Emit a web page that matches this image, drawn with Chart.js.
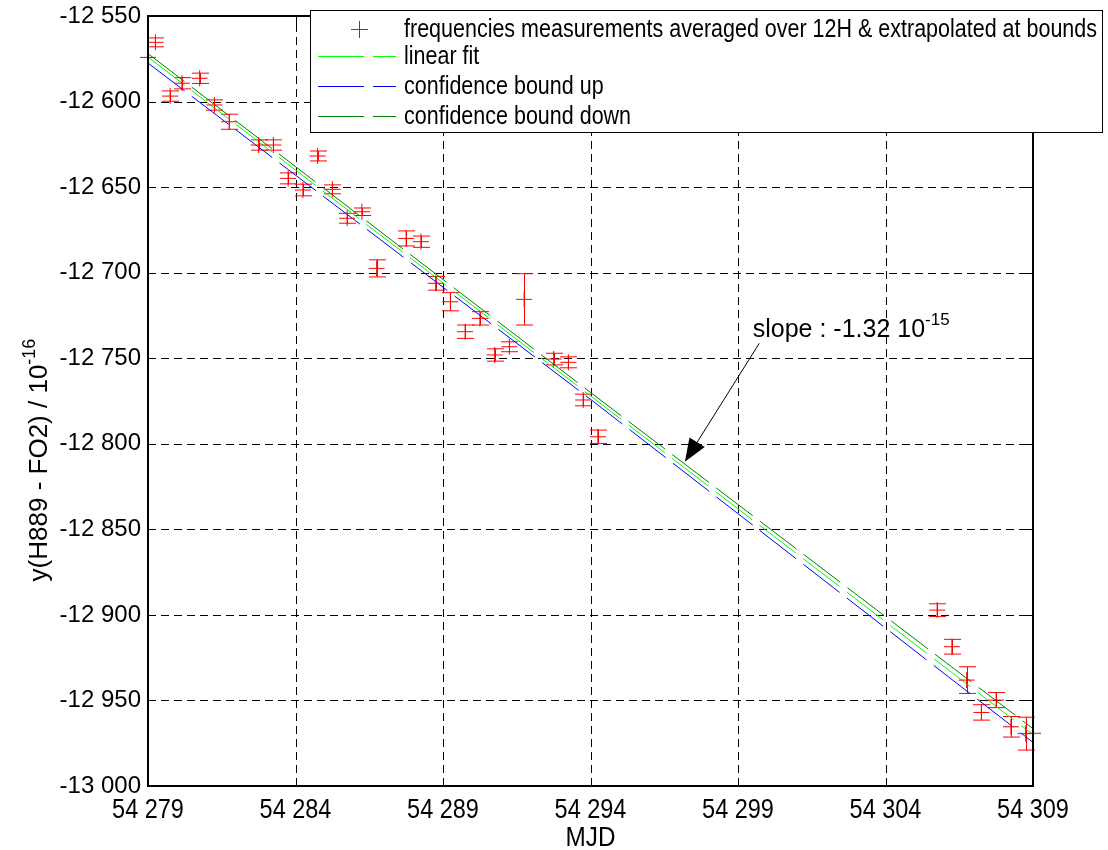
<!DOCTYPE html>
<html><head><meta charset="utf-8">
<script src="https://cdn.jsdelivr.net/npm/chart.js@4"></script>
<style>html,body{margin:0;padding:0;background:#fff;}canvas{display:block;}</style>
</head><body>
<canvas id="c" width="1108" height="850"></canvas>
<script>
// ---- data ----
const mjd = [54279, 54279.25, 54279.75, 54280.15, 54280.75, 54281.25, 54281.75, 54282.75, 54283.25, 54283.75,
  54284.25, 54284.75, 54285.25, 54285.75, 54286.25, 54286.75, 54287.75, 54288.25, 54288.75, 54289.25,
  54289.75, 54290.25, 54290.75, 54291.25, 54291.75, 54292.75, 54293.25, 54293.75, 54294.25,
  54305.75, 54306.25, 54306.75, 54307.25, 54307.75, 54308.25, 54308.75, 54309];
const yMeas = [-12574.2, -12565.4, -12596.8, -12589.3, -12586.4, -12602, -12611.8, -12625.4, -12625.4, -12644.9,
  -12651.7, -12631.8, -12651.3, -12668.2, -12664.4, -12697.5, -12680, -12681.9, -12706.2, -12717,
  -12734.5, -12726.7, -12748.1, -12743.3, -12715.6, -12750.5, -12752.4, -12774.4, -12795.9,
  -12897.2, -12918.6, -12938.1, -12957, -12949.8, -12965.4, -12969.4, -12969.2];
const yErr = [0, 2.6, 3, 3.3, 3, 3, 4.4, 3, 3, 3.2,
  3.4, 2.9, 2.6, 2.9, 2.2, 5, 4.4, 3.3, 4, 5.3,
  3.9, 3.9, 3.6, 2.9, 15, 3.4, 3.2, 3.4, 3.9,
  3.7, 4.3, 7.8, 4.5, 4.4, 6, 9.6, 0];
const fitX = [54279, 54309];
const fitY = [-12574, -12970];
const boundX = [54279, 54294, 54309];
const boundUpY = [-12577.5, -12774, -12974.5];
const boundDownY = [-12572, -12770, -12966.5];
const xTicks = [54279, 54284, 54289, 54294, 54299, 54304, 54309];
const yTicks = [-13000, -12950, -12900, -12850, -12800, -12750, -12700, -12650, -12600, -12550];
const legendLabels = ['frequencies measurements averaged over 12H & extrapolated at bounds', 'linear fit', 'confidence bound up', 'confidence bound down'];
const xTitle = 'MJD';
const yTitle = 'y(H889 - FO2) / 10', yTitleExp = '-16';
const slopeText = 'slope : -1.32 10', slopeExp = '-15';
const slopeAt = [54299.5, -12737.6];
const arrowTail = [54299.72, -12741.3];
const arrowTip = [54297.2, -12810.5];

const REG = '"Liberation Sans", Arial, sans-serif';
const DASH = [46, 9];
const COLORS = ['#ff0000', '#00ff00', '#0000ff', '#007f00'];

function fmt(v) {
  const s = Math.abs(Math.round(v)).toString().replace(/\B(?=(\d{3})+(?!\d))/g, ' ');
  return (v < 0 ? '-' : '') + s;
}
function supText(ctx, base, exp, x, y, font, supFont, rise, align) {
  ctx.font = font;
  const w1 = ctx.measureText(base).width;
  ctx.font = supFont;
  const w2 = ctx.measureText(exp).width;
  let x0 = x;
  if (align === 'center') x0 = x - (w1 + w2) / 2;
  ctx.textAlign = 'left';
  ctx.textBaseline = 'alphabetic';
  ctx.font = font;
  ctx.fillText(base, x0, y);
  ctx.font = supFont;
  ctx.fillText(exp, x0 + w1, y - rise);
}
function narrowText(ctx, text, x, y, font, sx, align, baseline) {
  ctx.save();
  ctx.translate(x, y);
  ctx.scale(sx, 1);
  ctx.font = font;
  ctx.textAlign = align;
  ctx.textBaseline = baseline;
  ctx.fillText(text, 0, 0);
  ctx.restore();
}

const decor = {
  id: 'decor',
  beforeDatasetsDraw(chart) {
    const { ctx, chartArea: a, scales: { x, y } } = chart;
    ctx.save();
    ctx.strokeStyle = '#000';
    ctx.lineWidth = 1;
    ctx.setLineDash([8, 5]);
    xTicks.slice(1, -1).forEach(v => {
      const px = Math.round(x.getPixelForValue(v)) + 0.5;
      ctx.beginPath(); ctx.moveTo(px, a.bottom); ctx.lineTo(px, a.top); ctx.stroke();
    });
    yTicks.slice(1, -1).forEach(v => {
      const py = Math.round(y.getPixelForValue(v)) + 0.5;
      ctx.beginPath(); ctx.moveTo(a.left, py); ctx.lineTo(a.right, py); ctx.stroke();
    });
    ctx.setLineDash([]);
    // error bars
    ctx.strokeStyle = COLORS[0];
    ctx.lineWidth = 1;
    mjd.forEach((m, i) => {
      if (!yErr[i]) return;
      const px = Math.round(x.getPixelForValue(m)) + 0.5;
      const p1 = y.getPixelForValue(yMeas[i] + yErr[i]);
      const p2 = y.getPixelForValue(yMeas[i] - yErr[i]);
      ctx.beginPath();
      ctx.moveTo(px, p1); ctx.lineTo(px, p2);
      ctx.moveTo(px - 8.5, p1); ctx.lineTo(px + 8.5, p1);
      ctx.moveTo(px - 8.5, p2); ctx.lineTo(px + 8.5, p2);
      ctx.stroke();
    });
    ctx.restore();
  },
  afterDatasetsDraw(chart) {
    const { ctx, chartArea: a, scales: { x, y } } = chart;
    ctx.save();
    // axes box
    ctx.strokeStyle = '#000';
    ctx.lineWidth = 2;
    ctx.strokeRect(a.left, a.top, a.right - a.left, a.bottom - a.top);
    // inward ticks
    ctx.lineWidth = 1;
    xTicks.forEach(v => {
      const px = Math.round(x.getPixelForValue(v)) + 0.5;
      ctx.beginPath();
      ctx.moveTo(px, a.bottom); ctx.lineTo(px, a.bottom - 8);
      ctx.moveTo(px, a.top); ctx.lineTo(px, a.top + 8);
      ctx.stroke();
    });
    yTicks.forEach(v => {
      const py = Math.round(y.getPixelForValue(v)) + 0.5;
      ctx.beginPath();
      ctx.moveTo(a.left, py); ctx.lineTo(a.left + 8, py);
      ctx.moveTo(a.right, py); ctx.lineTo(a.right - 8, py);
      ctx.stroke();
    });
    ctx.fillStyle = '#000';
    // x tick labels (condensed, as in the reference)
    xTicks.forEach(v => {
      narrowText(ctx, fmt(v), x.getPixelForValue(v), a.bottom + 32, '27px ' + REG, 0.87, 'center', 'alphabetic');
    });
    // annotation
    supText(ctx, slopeText, slopeExp, x.getPixelForValue(slopeAt[0]), y.getPixelForValue(slopeAt[1]),
      '25px ' + REG, '17px ' + REG, 12, 'left');
    const tx = x.getPixelForValue(arrowTail[0]), ty = y.getPixelForValue(arrowTail[1]);
    const hx = x.getPixelForValue(arrowTip[0]), hy = y.getPixelForValue(arrowTip[1]);
    const ang = Math.atan2(hy - ty, hx - tx);
    const L = 23, W = 9;
    const bx = hx - L * Math.cos(ang), by = hy - L * Math.sin(ang);
    ctx.strokeStyle = '#000';
    ctx.lineWidth = 1;
    ctx.beginPath(); ctx.moveTo(tx, ty); ctx.lineTo(bx, by); ctx.stroke();
    ctx.beginPath();
    ctx.moveTo(hx, hy);
    ctx.lineTo(bx + W * Math.sin(ang), by - W * Math.cos(ang));
    ctx.lineTo(bx - W * Math.sin(ang), by + W * Math.cos(ang));
    ctx.closePath(); ctx.fill();
    // axis titles
    narrowText(ctx, xTitle, (a.left + a.right) / 2, 846, '27px ' + REG, 0.9, 'center', 'alphabetic');
    ctx.save();
    ctx.translate(47, 460);
    ctx.rotate(-Math.PI / 2);
    supText(ctx, yTitle, yTitleExp, 0, 0, '26px ' + REG, '18px ' + REG, 12, 'center');
    ctx.restore();
    // legend
    const L0 = 310.5, T0 = 10.5, LW = 792, LH = 122;
    ctx.fillStyle = '#fff';
    ctx.fillRect(L0, T0, LW, LH);
    ctx.strokeStyle = '#000';
    ctx.lineWidth = 1;
    ctx.strokeRect(L0, T0, LW, LH);
    const rows = [29, 56, 86, 116];
    const lf = '25px ' + REG;
    ctx.font = lf;
    const sx = 693 / ctx.measureText(legendLabels[0]).width;
    legendLabels.forEach((t, i) => {
      const yy = rows[i] + 0.5;
      ctx.strokeStyle = COLORS[i];
      ctx.lineWidth = 1;
      if (i === 0) {
        ctx.beginPath();
        ctx.moveTo(351, yy); ctx.lineTo(368, yy);
        ctx.moveTo(359.5, yy - 8.5); ctx.lineTo(359.5, yy + 8.5);
        ctx.stroke();
      } else {
        ctx.setLineDash(DASH);
        ctx.beginPath(); ctx.moveTo(318, yy); ctx.lineTo(396, yy); ctx.stroke();
        ctx.setLineDash([]);
      }
      ctx.fillStyle = '#000';
      narrowText(ctx, t, 404, rows[i] + 1, lf, sx, 'left', 'middle');
    });
    ctx.restore();
  }
};

new Chart(document.getElementById('c'), {
  type: 'scatter',
  data: {
    datasets: [
      { label: legendLabels[0], data: mjd.map((m, i) => ({ x: m, y: yMeas[i] })), pointStyle: 'cross',
        pointRadius: 8, borderColor: COLORS[0], backgroundColor: COLORS[0],
        pointBorderColor: COLORS[0], pointBackgroundColor: COLORS[0], pointBorderWidth: 1,
        showLine: false, clip: false, order: 0 },
      { label: legendLabels[1], data: fitX.map((m, i) => ({ x: m, y: fitY[i] })), showLine: true,
        borderColor: COLORS[1], borderWidth: 1, borderDash: DASH, pointRadius: 0, order: 1 },
      { label: legendLabels[2], data: boundX.map((m, i) => ({ x: m, y: boundUpY[i] })), showLine: true,
        borderColor: COLORS[2], borderWidth: 1, borderDash: DASH, pointRadius: 0, order: 2 },
      { label: legendLabels[3], data: boundX.map((m, i) => ({ x: m, y: boundDownY[i] })), showLine: true,
        borderColor: COLORS[3], borderWidth: 1, borderDash: DASH, pointRadius: 0, order: 3 }
    ]
  },
  options: {
    responsive: false, animation: false, devicePixelRatio: 1,
    layout: { padding: { top: 16, right: 75, left: 0, bottom: 0 } },
    plugins: { legend: { display: false }, tooltip: { enabled: false } },
    scales: {
      x: {
        type: 'linear', min: 54279, max: 54309,
        afterBuildTicks: s => { s.ticks = xTicks.map(v => ({ value: v })); },
        afterFit: s => { s.height = 64; s.paddingLeft = 0; s.paddingRight = 0; },
        grid: { display: false, drawTicks: false }, border: { display: false },
        ticks: { display: false, callback: v => fmt(v) }
      },
      y: {
        min: -13000, max: -12550,
        afterBuildTicks: s => { s.ticks = yTicks.map(v => ({ value: v })); },
        afterFit: s => { s.width = 148; s.paddingTop = 0; s.paddingBottom = 0; },
        grid: { display: false, drawTicks: false }, border: { display: false },
        ticks: { callback: v => fmt(v), color: '#000', padding: 7, autoSkip: false,
          font: { family: REG, size: 24 } }
      }
    }
  },
  plugins: [decor]
});
</script>
</body></html>
